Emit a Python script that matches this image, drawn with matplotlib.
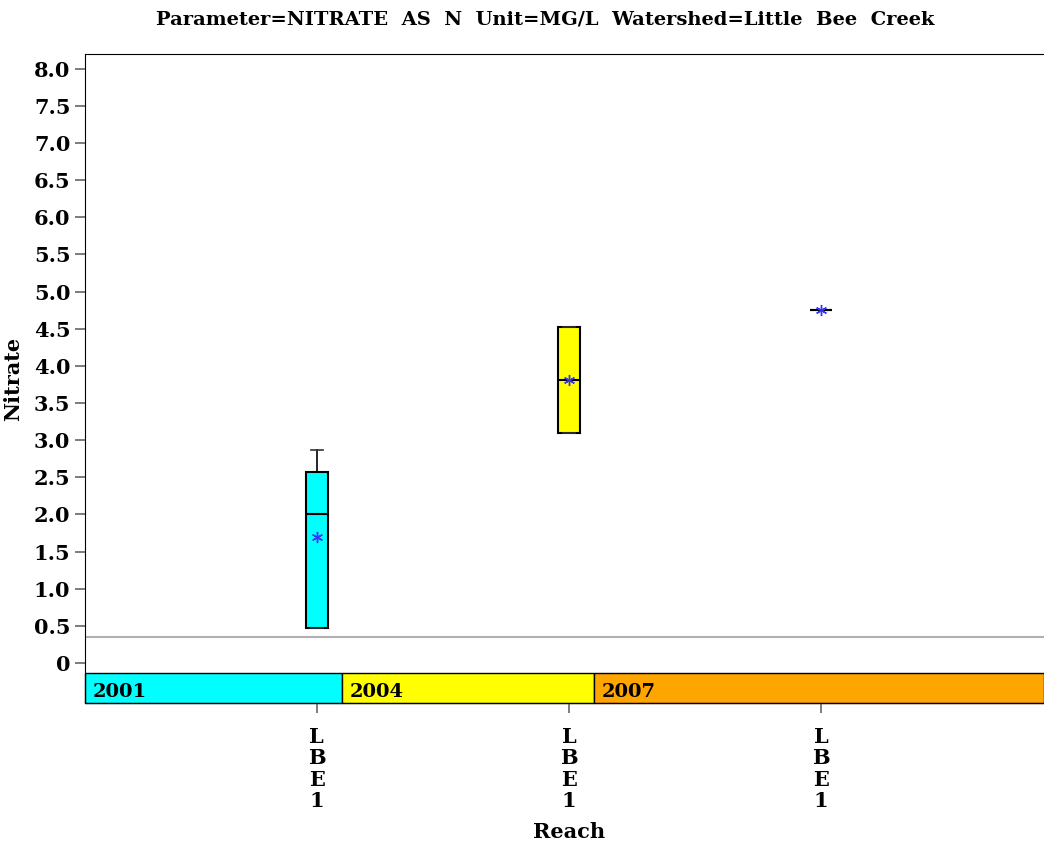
import matplotlib.pyplot as plt
from matplotlib.patches import Rectangle

# data
reach_labels = ["LBE1", "LBE1", "LBE1"]
years = ["2001", "2004", "2007"]
year_colors = ["#00ffff", "#ffff00", "#ffa500"]
q1 = [0.47, 3.10, 4.75]
med = [2.01, 3.81, 4.75]
q3 = [2.57, 4.52, 4.75]
whis_lo = [0.47, 3.10, 4.75]
whis_hi = [2.87, 4.52, 4.75]
means = [1.70, 3.81, 4.75]
ref_line = 0.35
year_edges = [0.08, 1.10, 2.10, 3.885]

plt.rcParams['font.family'] = ['DejaVu Serif']
plt.rcParams['font.weight'] = 'bold'

fig = plt.figure(figsize=(10.44, 8.46), dpi=100)
ax = fig.add_axes([85 / 1044, 1 - 703 / 846, (1044 - 85) / 1044, (703 - 54) / 846])

pos = [1, 2, 3]
stats = []
for i in range(3):
    stats.append(dict(med=med[i], q1=q1[i], q3=q3[i], whislo=whis_lo[i],
                      whishi=whis_hi[i], mean=means[i], fliers=[]))

bp = ax.bxp(stats, positions=pos, widths=0.09, patch_artist=True, showmeans=True,
            capwidths=0.05,
            medianprops=dict(color='black', linewidth=1.5),
            boxprops=dict(edgecolor='black', linewidth=1.5),
            whiskerprops=dict(color='black', linewidth=1.2),
            capprops=dict(color='#333333', linewidth=1.2),
            meanprops=dict(marker=(6, 2, 0), markeredgecolor='#3333ff',
                           markerfacecolor='#3333ff', markersize=8, linestyle='none'))
for patch, c in zip(bp['boxes'], year_colors):
    patch.set_facecolor(c)

# reference line
ax.axhline(ref_line, color='#b0b0b0', linewidth=1.5, zorder=0)

# year band along the bottom
band_lo, band_hi = -0.54, -0.135
for i in range(3):
    ax.add_patch(Rectangle((year_edges[i], band_lo), year_edges[i + 1] - year_edges[i],
                           band_hi - band_lo, facecolor=year_colors[i],
                           edgecolor='black', linewidth=1, clip_on=False))
    ax.text(year_edges[i] + 0.03, band_lo + 0.03, years[i], fontsize=14,
            fontweight='bold', ha='left', va='bottom')

ax.set_xlim(year_edges[0], year_edges[-1])
ax.set_ylim(band_lo, 8.20)

yt = [0, 0.5, 1, 1.5, 2, 2.5, 3, 3.5, 4, 4.5, 5, 5.5, 6, 6.5, 7, 7.5, 8]
ax.set_yticks(yt)
ax.set_yticklabels(["0" if v == 0 else "%.1f" % v for v in yt], fontsize=15, fontweight='bold')
ax.set_xticks(pos)
ax.set_xticklabels(["\n".join(s) for s in reach_labels], fontsize=15, fontweight='bold',
                   linespacing=1.1)
ax.tick_params(axis='both', color='#666666', length=7, width=1.2)
ax.tick_params(axis='x', pad=10)

ax.spines['right'].set_visible(False)

fig.text(569 / 1044, 1 - 832 / 846, "Reach", ha='center', va='center',
         fontsize=15, fontweight='bold')
ax.set_ylabel("Nitrate", fontsize=15, fontweight='bold', labelpad=8)
fig.text(545 / 1044, 1 - 20 / 846,
         "Parameter=NITRATE  AS  N  Unit=MG/L  Watershed=Little  Bee  Creek",
         ha='center', va='center', fontsize=14, fontweight='bold')

fig.savefig("out.png", dpi=100)
